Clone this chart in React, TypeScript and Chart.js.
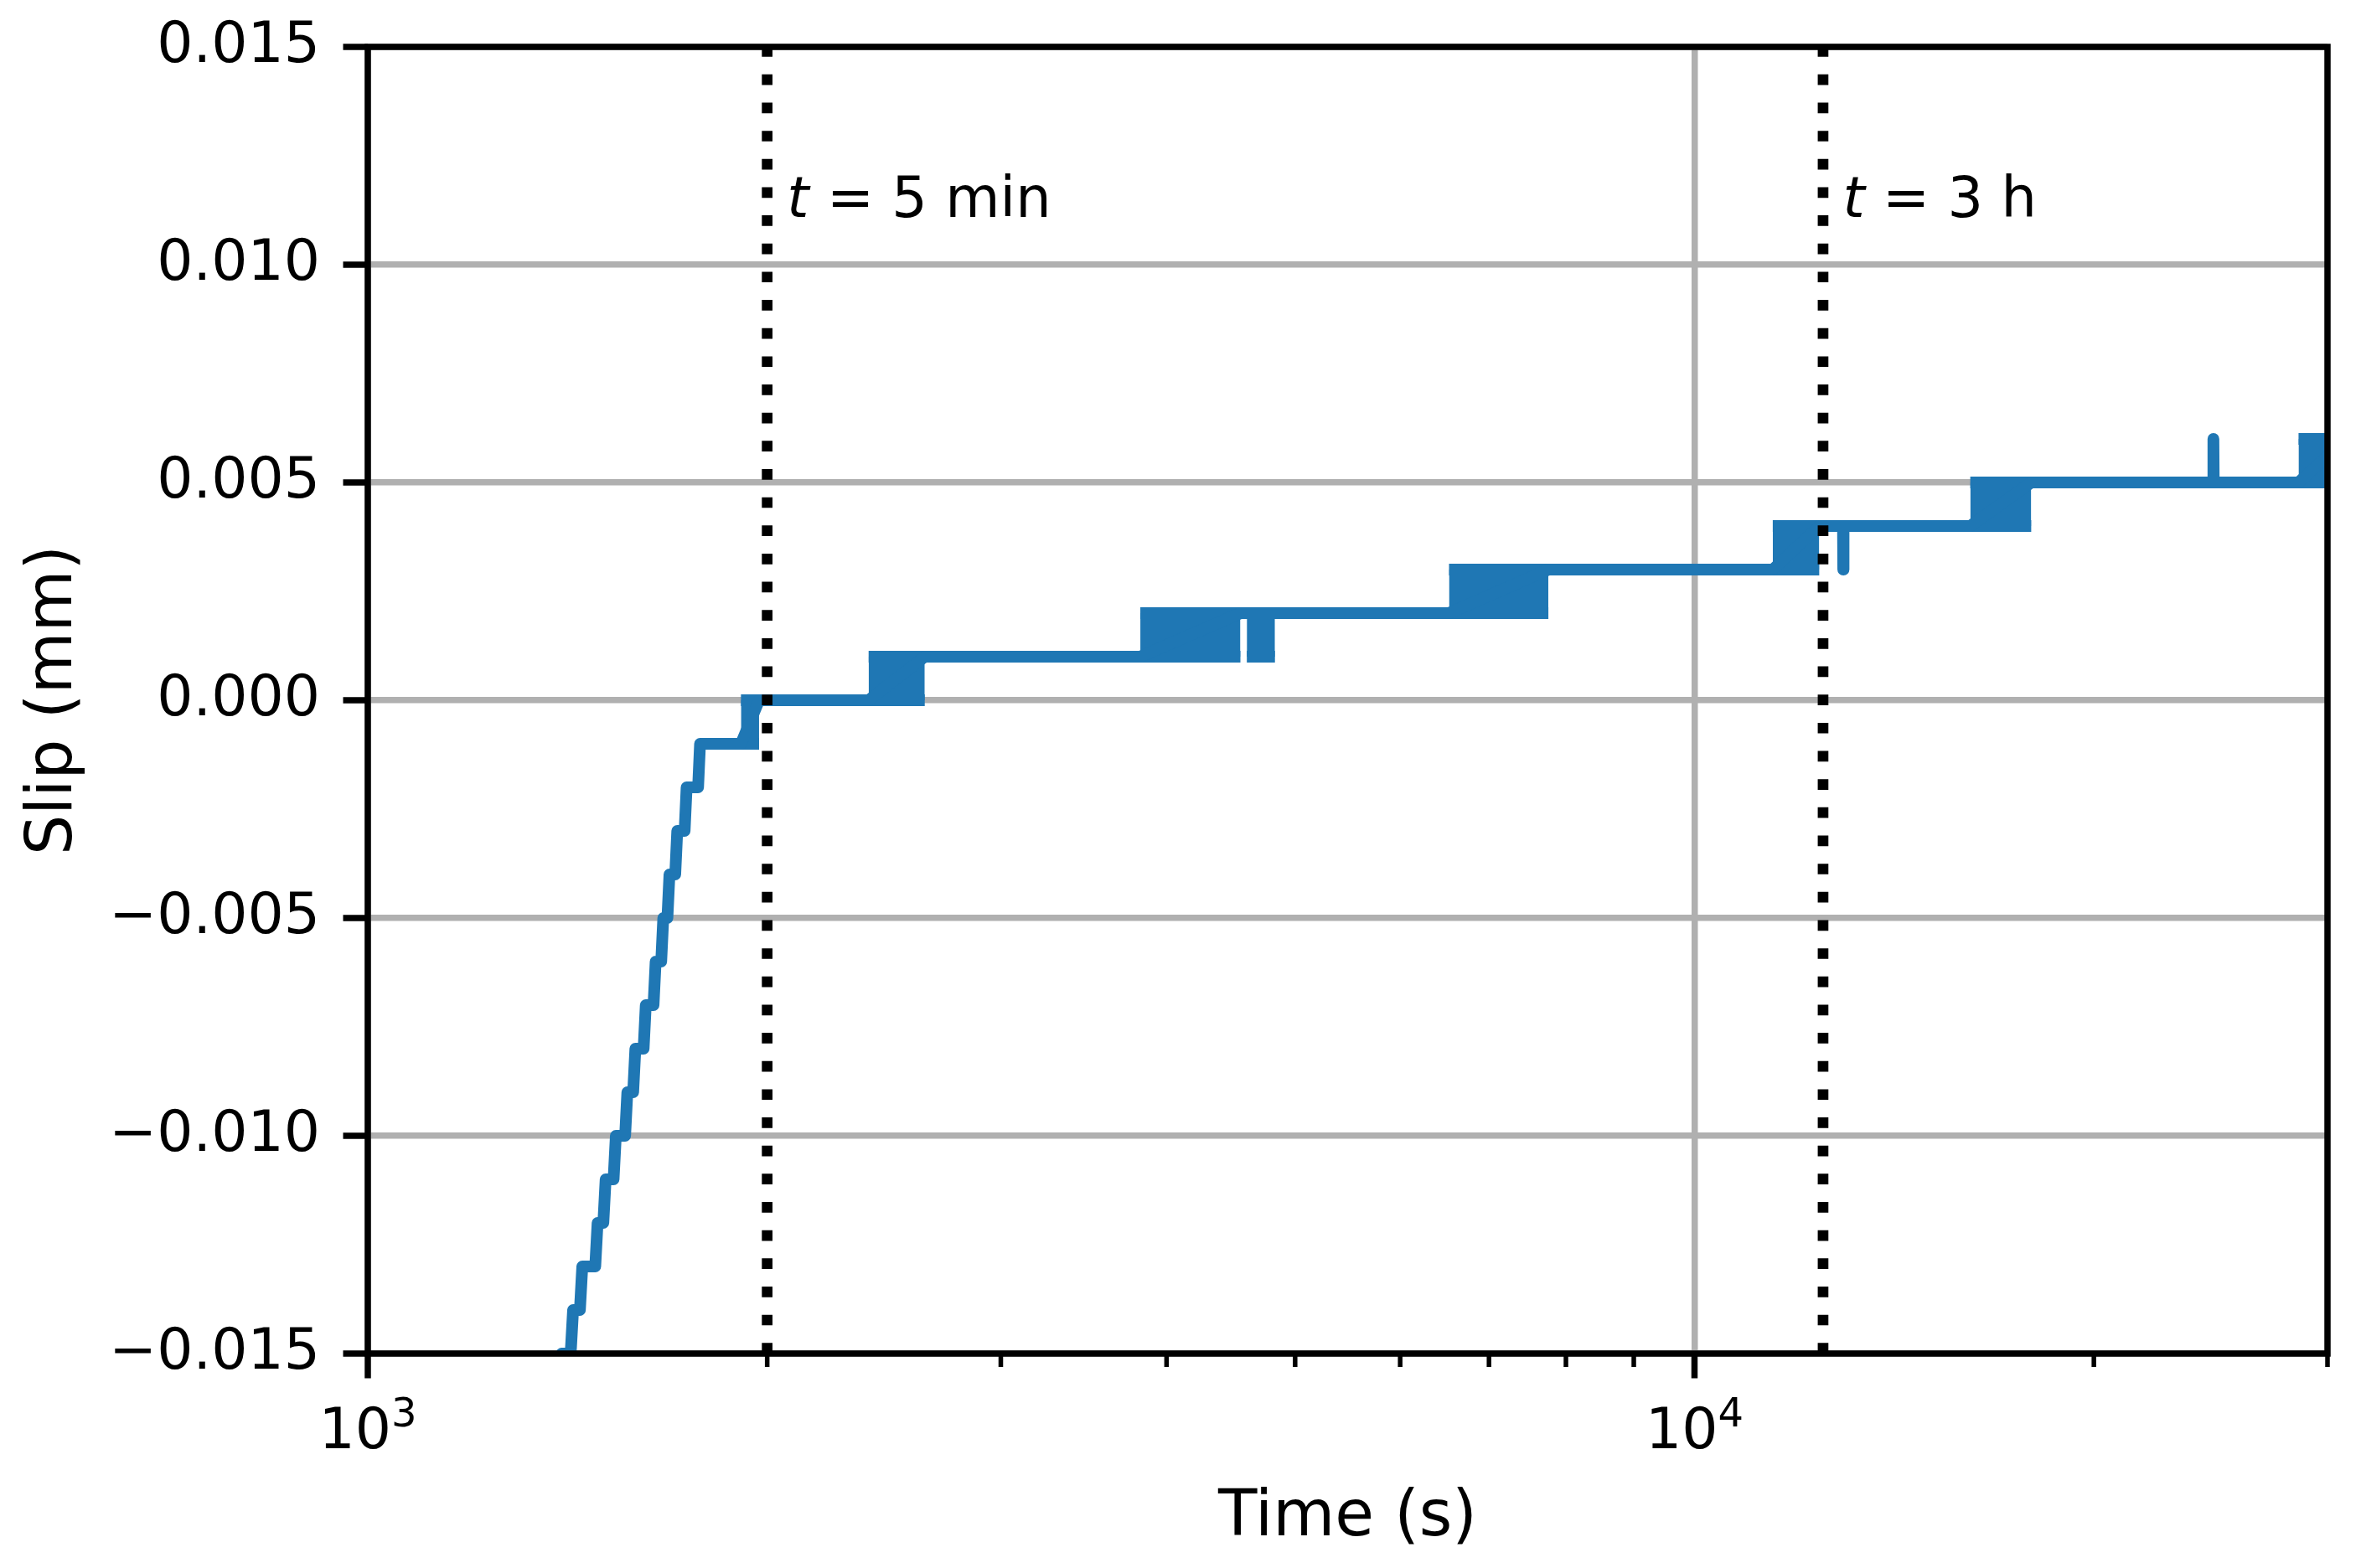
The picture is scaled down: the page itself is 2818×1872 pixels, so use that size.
import React, { useEffect, useRef } from 'react';
import { Chart, registerables } from 'chart.js';

Chart.register(...registerables);

// ---- data ----
const slipTimes = [
  1380, 1394, 1400,
  1422, 1428, 1445, 1451, 1484, 1490, 1505, 1511, 1532, 1538, 1563, 1569,
  1585, 1591, 1614, 1620, 1642, 1648, 1664, 1670, 1682, 1688, 1705, 1711,
  1733, 1739, 1774, 1780,
  1911, 1972, 2385, 2629, 3822, 4547, 4828, 6531, 7760,
  11455, 12417, 12940, 12946, 12952, 16139, 17939, 24597, 24611, 24625,
  28530, 31000,
];
const slipValues = [
  -0.016, -0.016, -0.015,
  -0.015, -0.014, -0.014, -0.013, -0.013, -0.012, -0.012, -0.011, -0.011, -0.010, -0.010, -0.009,
  -0.009, -0.008, -0.008, -0.007, -0.007, -0.006, -0.006, -0.005, -0.005, -0.004, -0.004, -0.003,
  -0.003, -0.002, -0.002, -0.001,
  -0.001, 0, 0, 0.001, 0.001, 0.002, 0.002, 0.002, 0.003,
  0.003, 0.004, 0.004, 0.003, 0.004, 0.004, 0.005, 0.005, 0.006, 0.005,
  0.005, 0.006,
];

// bursts where the reading flickers between two adjacent levels
const flickerStart = [1911, 2385, 3822, 4598, 6531, 11455, 16139, 28530];
const flickerEnd = [1972, 2629, 4547, 4828, 7760, 12417, 17939, 30000];
const flickerLow = [-0.001, 0, 0.001, 0.001, 0.002, 0.003, 0.004, 0.005];
const flickerHigh = [0, 0.001, 0.002, 0.002, 0.003, 0.004, 0.005, 0.006];

const markerTimes = [2000, 12500];
const markerLabels = ['5 min', '3 h'];
const labelTimes = [2070, 12935];
const labelSlips = [0.0111, 0.0111];

const xRange = [1000, 30000];
const yRange = [-0.015, 0.015];
const yTickValues = [-0.015, -0.01, -0.005, 0, 0.005, 0.01, 0.015];
const xMajorTicks = [1000, 10000];
const xMajorExponents = ['3', '4'];
const xMinorTicks = [2000, 3000, 4000, 5000, 6000, 7000, 8000, 9000, 20000, 30000];

// ---- style ----
const W = 2818;
const H = 1872;
const BLUE = '#1f77b4';
const GRID = '#b0b0b0';
const FONT = '"DejaVu Sans"';
const LW = 14;
const DOT_W = 12.7;
const SPINE_W = 7.5;
const MAJOR_LEN = 29.5;
const MINOR_LEN = 16;
const MINOR_W = 5.5;
const TICK_SIZE = 68;
const TITLE_SIZE = 76;
const ANN_SIZE = 67;

const fmtY = (v: number) => {
  if (Math.abs(v) < 1e-9) return '0.000';
  const s = Math.abs(v).toFixed(3);
  return v < 0 ? '\u2212' + s : s;
};

const decor = {
  id: 'decor',
  afterDraw(chart: any) {
    const { ctx, chartArea } = chart;
    const { left, right, top, bottom } = chartArea;
    const xs = chart.scales.x;
    const ys = chart.scales.y;
    ctx.save();
    ctx.strokeStyle = '#000';
    ctx.fillStyle = '#000';
    ctx.lineCap = 'butt';

    // tick marks
    ctx.lineWidth = SPINE_W;
    for (const v of yTickValues) {
      const py = ys.getPixelForValue(v);
      ctx.beginPath();
      ctx.moveTo(left - MAJOR_LEN, py);
      ctx.lineTo(left, py);
      ctx.stroke();
    }
    for (const v of xMajorTicks) {
      const px = xs.getPixelForValue(v);
      ctx.beginPath();
      ctx.moveTo(px, bottom);
      ctx.lineTo(px, bottom + MAJOR_LEN);
      ctx.stroke();
    }
    ctx.lineWidth = MINOR_W;
    for (const v of xMinorTicks) {
      const px = xs.getPixelForValue(v);
      ctx.beginPath();
      ctx.moveTo(px, bottom);
      ctx.lineTo(px, bottom + MINOR_LEN);
      ctx.stroke();
    }

    // spines
    ctx.lineWidth = SPINE_W;
    ctx.lineJoin = 'miter';
    ctx.strokeRect(left, top, right - left, bottom - top);

    // x tick labels: 10^n
    const baseFont = `${TICK_SIZE}px ${FONT}`;
    const expFont = `${Math.round(TICK_SIZE * 0.7)}px ${FONT}`;
    ctx.textBaseline = 'alphabetic';
    ctx.textAlign = 'left';
    xMajorTicks.forEach((v, i) => {
      const px = xs.getPixelForValue(v);
      ctx.font = baseFont;
      const w1 = ctx.measureText('10').width;
      ctx.font = expFont;
      const w2 = ctx.measureText(xMajorExponents[i]).width;
      const x0 = px - (w1 + w2) / 2;
      ctx.font = baseFont;
      ctx.fillText('10', x0, bottom + 113);
      ctx.font = expFont;
      ctx.fillText(xMajorExponents[i], x0 + w1, bottom + 87);
    });

    // annotations
    markerLabels.forEach((lab, i) => {
      const px = xs.getPixelForValue(labelTimes[i]);
      const py = ys.getPixelForValue(labelSlips[i]);
      ctx.font = `italic ${ANN_SIZE}px ${FONT}`;
      ctx.fillText('t', px, py);
      const w = ctx.measureText('t').width;
      ctx.font = `${ANN_SIZE}px ${FONT}`;
      ctx.fillText(' = ' + lab, px + w, py);
    });
    ctx.restore();
  },
};

export default function App() {
  const ref = useRef<HTMLCanvasElement>(null);

  useEffect(() => {
    const canvas = ref.current;
    if (!canvas) return;

    const datasets: any[] = [];
    markerTimes.forEach((t) => {
      datasets.push({
        data: [{ x: t, y: yRange[0] }, { x: t, y: yRange[1] }],
        borderColor: '#000',
        borderWidth: DOT_W,
        borderDash: [DOT_W, DOT_W * 1.65],
        borderCapStyle: 'butt',
        pointRadius: 0,
        fill: false,
        clip: 0,
      });
    });
    datasets.push({
      data: slipTimes.map((t, i) => ({ x: t, y: slipValues[i] })),
      borderColor: BLUE,
      borderWidth: LW,
      borderJoinStyle: 'round',
      borderCapStyle: 'butt',
      pointRadius: 0,
      fill: false,
      clip: 0,
    });
    flickerStart.forEach((s, i) => {
      const e = flickerEnd[i];
      datasets.push({
        data: [{ x: s, y: flickerLow[i] }, { x: e, y: flickerLow[i] }],
        borderColor: BLUE,
        borderWidth: LW,
        borderCapStyle: 'butt',
        pointRadius: 0,
        fill: false,
        clip: 0,
      });
      datasets.push({
        data: [{ x: s, y: flickerHigh[i] }, { x: e, y: flickerHigh[i] }],
        borderColor: BLUE,
        backgroundColor: BLUE,
        borderWidth: LW,
        borderCapStyle: 'butt',
        pointRadius: 0,
        fill: '-1',
        clip: 0,
      });
    });

    const chart = new Chart(canvas, {
      type: 'line',
      data: { datasets },
      plugins: [decor],
      options: {
        animation: false,
        responsive: false,
        devicePixelRatio: 1,
        events: [],
        layout: { padding: { left: 0, top: 56, right: 40, bottom: 0 } },
        plugins: {
          legend: { display: false },
          tooltip: { enabled: false },
          title: { display: false },
        },
        elements: { point: { radius: 0 }, line: { tension: 0 } },
        scales: {
          x: {
            type: 'logarithmic',
            min: xRange[0],
            max: xRange[1],
            afterBuildTicks: (scale: any) => {
              scale.ticks = [...xMajorTicks, ...xMinorTicks]
                .sort((a, b) => a - b)
                .map((v) => ({ value: v, major: xMajorTicks.includes(v) }));
            },
            afterFit: (scale: any) => {
              scale.height = 256;
              scale.paddingLeft = 0;
              scale.paddingRight = 0;
            },
            grid: {
              drawTicks: false,
              lineWidth: SPINE_W,
              color: (c: any) =>
                c.tick && xMajorTicks.includes(c.tick.value) ? GRID : 'rgba(0,0,0,0)',
            },
            border: { display: false },
            ticks: { display: false, autoSkip: false },
            title: {
              display: true,
              text: 'Time (s)',
              color: '#000',
              font: { family: 'DejaVu Sans', size: TITLE_SIZE },
              padding: { top: 0, bottom: 13 },
            },
          },
          y: {
            type: 'linear',
            min: yRange[0],
            max: yRange[1],
            afterBuildTicks: (scale: any) => {
              scale.ticks = yTickValues.map((v) => ({ value: v }));
            },
            afterFit: (scale: any) => {
              scale.width = 439;
              scale.paddingTop = 0;
              scale.paddingBottom = 0;
            },
            grid: { drawTicks: false, lineWidth: SPINE_W, color: GRID },
            border: { display: false },
            ticks: {
              color: '#000',
              font: { family: 'DejaVu Sans', size: TICK_SIZE },
              padding: 57,
              autoSkip: false,
              callback: (v: any) => fmtY(Number(v)),
            },
            title: {
              display: true,
              text: 'Slip (mm)',
              color: '#000',
              font: { family: 'DejaVu Sans', size: TITLE_SIZE },
              padding: { top: 20, bottom: 0 },
            },
          },
        },
      } as any,
    });

    return () => chart.destroy();
  }, []);

  return (
    <div style={{ position: 'absolute', left: 0, top: 0, width: W, height: H, background: '#fff' }}>
      <canvas ref={ref} width={W} height={H} style={{ width: W + 'px', height: H + 'px', display: 'block' }} />
    </div>
  );
}
